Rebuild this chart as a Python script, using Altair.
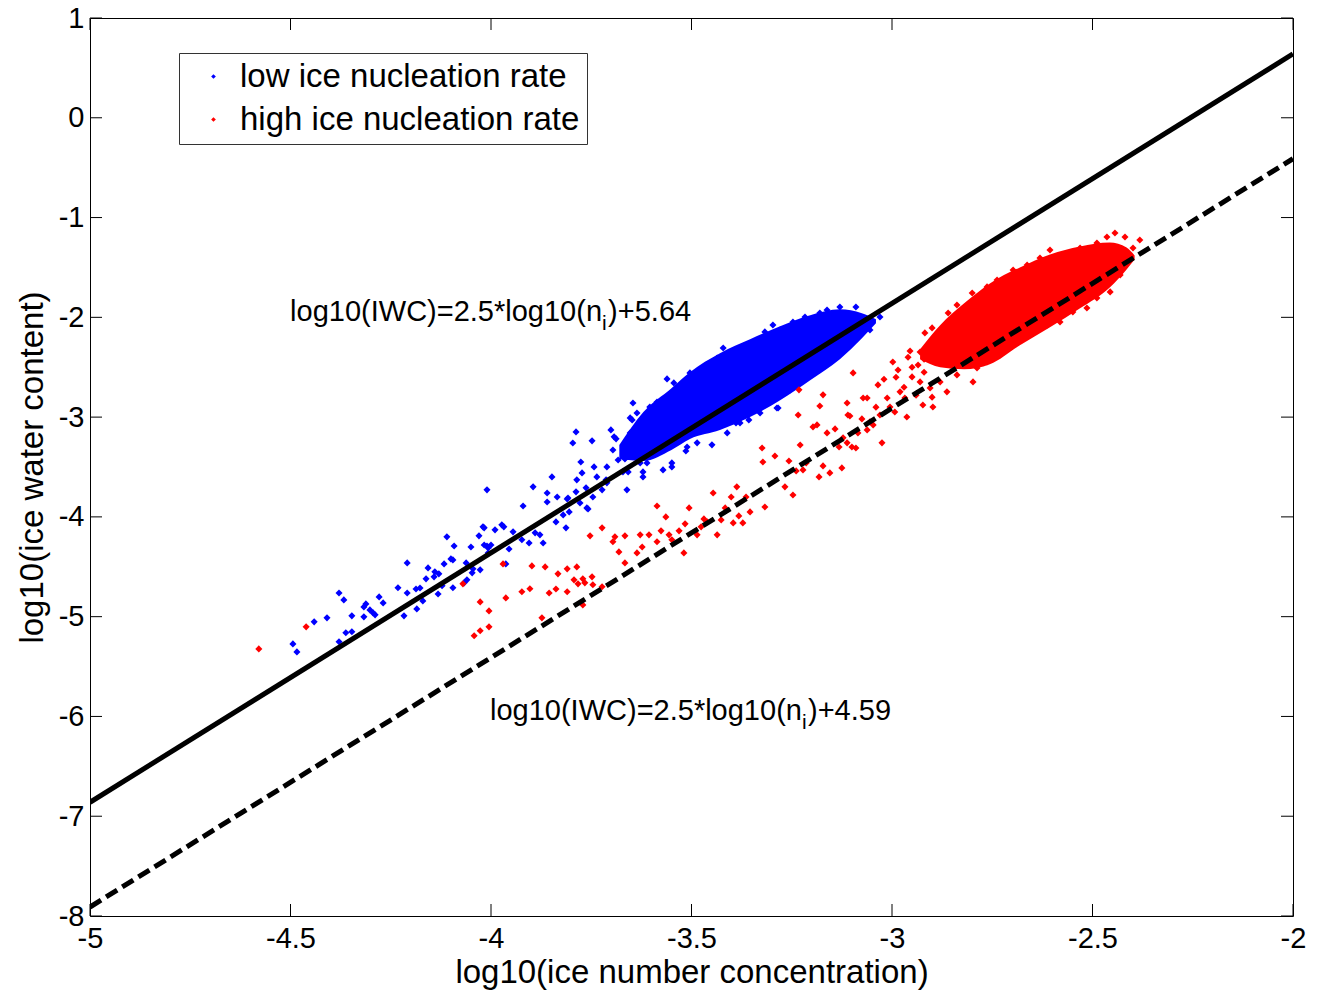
import altair as alt
import pandas as pd

# ---------------- data ----------------
blue_x = [-4.494, -4.484, -4.441, -4.409, -4.379, -4.367, -4.379, -4.362, -4.347, -4.347,
          -4.317, -4.317, -4.312, -4.302, -4.294, -4.289, -4.279, -4.269, -4.232, -4.217,
          -4.209, -4.209, -4.187, -4.185, -4.177, -4.170, -4.162, -4.157, -4.142, -4.140,
          -4.130, -4.132, -4.122, -4.117, -4.110, -4.100, -4.095, -4.092, -4.062, -4.060,
          -4.050, -4.047, -4.045, -4.030, -4.027, -4.017, -4.010, -4.007, -4.000, -3.990,
          -3.973, -3.968, -3.955, -3.945, -4.095, -4.067, -4.020, -4.010, -4.017, -4.007,
          -3.963, -3.923, -3.920, -3.905, -3.895, -3.890, -3.878, -3.870, -3.860, -3.860,
          -3.848, -3.835, -3.838, -3.820, -3.813, -3.810, -3.805, -3.788, -3.786, -3.776,
          -3.773, -3.763, -3.761, -3.796, -3.788, -3.748, -3.743, -3.736, -3.723, -3.713,
          -3.711, -3.701, -3.696, -3.688, -3.683, -3.671, -3.666, -3.653, -3.648, -3.646,
          -3.646, -3.636, -3.628, -3.621, -3.611, -3.604, -3.596, -3.586, -3.571, -3.571,
          -3.549, -3.536, -3.514, -3.536, -3.511, -3.486, -3.449, -3.444, -3.389, -3.357,
          -3.284, -3.237, -3.693, -3.653, -3.604, -3.586, -3.561, -3.544, -3.524, -3.504,
          -3.464, -3.436, -3.421, -3.392, -3.362, -3.337, -3.317, -3.297, -3.279, -3.247,
          -3.217, -3.180, -3.162, -3.130, -3.090, -3.080, -3.055, -3.030, -3.067, -3.496,
          -3.479, -3.411, -3.379, -3.329, -3.287, -3.254, -3.212, -3.180, -3.147, -3.105,
          -3.621, -3.658, -3.628, -3.549, -3.511, -3.661, -3.711, -3.746, -3.778, -3.808,
          -3.758, -3.122]
blue_y = [-5.273, -5.353, -5.052, -5.012, -4.762, -4.832, -5.252, -5.162, -5.152, -4.992,
          -5.002, -4.902, -4.872, -4.932, -4.962, -4.982, -4.802, -4.862, -4.711, -4.992,
          -4.461, -4.762, -4.722, -4.922, -4.712, -4.842, -4.621, -4.511, -4.601, -4.551,
          -4.571, -4.772, -4.691, -4.471, -4.200, -4.421, -4.711, -4.291, -4.461, -4.631,
          -4.301, -4.561, -4.521, -4.190, -4.531, -4.110, -4.291, -4.361, -4.281, -4.130,
          -4.080, -4.100, -4.321, -4.150, -4.431, -4.661, -4.100, -3.729, -4.281, -4.311,
          -4.471, -4.230, -3.890, -4.261, -3.699, -4.160, -4.180, -4.261, -3.850, -3.760,
          -3.599, -3.800, -4.050, -3.980, -4.110, -3.820, -3.950, -3.749, -3.629, -3.449,
          -3.559, -3.709, -3.910, -3.259, -3.148, -3.238, -3.499, -3.599, -3.729, -3.629,
          -3.499, -3.128, -3.329, -3.218, -3.429, -3.549, -3.419, -3.158, -3.028, -2.858,
          -3.349, -2.958, -3.208, -3.549, -3.459, -3.058, -2.948, -3.359, -3.529, -3.248,
          -3.459, -3.198, -3.339, -2.727, -2.838, -3.258, -3.278, -3.098, -3.058, -3.028,
          -2.908, -2.627, -3.198, -3.008, -2.898, -2.848, -2.617, -2.657, -2.747, -2.557,
          -2.497, -2.407, -2.307, -2.347, -2.297, -2.277, -2.146, -2.076, -2.126, -2.046,
          -1.996, -1.956, -1.926, -1.896, -1.896, -1.996, -2.126, -1.996, -2.106, -3.028,
          -3.128, -3.158, -3.058, -2.958, -2.908, -2.727, -2.597, -2.527, -2.397, -2.257,
          -3.599, -3.549, -3.459, -3.499, -3.299, -3.729, -3.659, -3.800, -3.860, -3.810,
          -3.920, -2.277]

red_x = [-4.579, -4.461, -4.070, -3.970, -3.963, -4.027, -4.005, -4.005, -4.027, -4.042,
         -3.923, -3.903, -3.898, -3.873, -3.865, -3.855, -3.838, -3.833, -3.810, -3.810,
         -3.793, -3.786, -3.783, -3.771, -3.766, -3.748, -3.746, -3.723, -3.771, -3.753,
         -3.723, -3.696, -3.691, -3.681, -3.666, -3.666, -3.636, -3.628, -3.623, -3.606,
         -3.586, -3.586, -3.576, -3.564, -3.556, -3.549, -3.531, -3.519, -3.516, -3.506,
         -3.486, -3.476, -3.469, -3.461, -3.446, -3.436, -3.426, -3.416, -3.401, -3.396,
         -3.387, -3.382, -3.372, -3.364, -3.354, -3.324, -3.322, -3.317, -3.292, -3.267,
         -3.257, -3.247, -3.239, -3.232, -3.234, -3.229, -3.222, -3.214, -3.197, -3.187,
         -3.182, -3.180, -3.172, -3.172, -3.162, -3.155, -3.142, -3.132, -3.125, -3.112,
         -3.112, -3.105, -3.090, -3.085, -3.075, -3.062, -3.062, -3.097, -3.035, -2.998,
         -2.985, -2.955, -2.918, -2.910, -2.900, -2.880, -2.860, -2.838, -2.800, -2.935,
         -2.950, -2.980, -3.005, -3.030, -3.055, -3.072, -3.110, -3.122, -3.100, -3.047,
         -3.025, -2.993, -2.963, -2.923, -2.898, -2.863, -2.880, -2.838, -2.798, -2.788,
         -2.930, -2.968, -3.012, -2.905, -2.855, -2.813, -2.763, -2.731, -2.698, -2.656,
         -2.613, -2.581, -2.549, -2.514, -2.489, -2.456, -2.431, -2.424, -2.407, -2.399,
         -2.419, -2.464, -2.489, -2.531, -2.606, -2.631, -2.663, -2.698, -2.738, -2.763,
         -2.855, -2.880, -2.898, -2.930, -2.444, -2.382, -2.990, -2.970, -2.950, -2.940,
         -2.920, -2.900, -2.960, -3.020, -3.040, -2.920]
red_y = [-5.323, -5.102, -4.671, -4.471, -4.812, -4.852, -4.942, -5.102, -5.142, -5.192,
         -4.751, -4.721, -4.491, -5.012, -4.501, -4.762, -4.722, -4.571, -4.751, -4.521,
         -4.631, -4.501, -4.671, -4.621, -4.661, -4.601, -4.681, -4.701, -4.882, -4.190,
         -4.110, -4.250, -4.200, -4.351, -4.190, -4.461, -4.361, -4.180, -4.301, -4.180,
         -3.890, -4.250, -4.140, -4.000, -4.180, -4.230, -4.140, -4.361, -4.070, -3.910,
         -4.180, -4.100, -4.020, -4.050, -3.760, -4.180, -4.030, -3.910, -3.800, -4.060,
         -3.699, -3.990, -4.060, -3.800, -3.950, -3.309, -3.449, -3.900, -3.389, -3.699,
         -3.439, -3.780, -3.539, -2.727, -2.978, -3.279, -3.529, -3.459, -3.098, -3.078,
         -3.599, -2.888, -2.777, -3.489, -3.158, -3.559, -3.118, -3.299, -3.509, -2.858,
         -3.258, -2.988, -3.309, -3.158, -3.018, -2.808, -3.128, -2.557, -2.677, -2.447,
         -2.527, -2.337, -2.156, -2.277, -2.106, -2.257, -1.956, -1.876, -1.756, -2.477,
         -2.597, -2.747, -2.898, -2.978, -3.048, -2.808, -2.978, -3.208, -3.299, -3.078,
         -3.258, -2.948, -2.998, -2.878, -2.898, -2.747, -2.647, -2.577, -2.647, -2.507,
         -2.647, -2.808, -2.808, -2.707, -2.477, -2.407, -2.447, -2.377, -2.277, -2.176,
         -2.076, -2.046, -1.946, -1.906, -1.806, -1.745, -1.575, -1.505, -1.405, -1.305,
         -1.194, -1.194, -1.255, -1.305, -1.325, -1.405, -1.475, -1.525, -1.625, -1.695,
         -2.076, -2.176, -2.307, -2.347, -1.154, -1.225, -2.600, -2.700, -2.500, -2.780,
         -2.550, -2.800, -2.400, -2.620, -2.900, -2.420]

# dense cores of the two clouds (lower / upper edge of the solid region)
blue_core_x = [-3.68, -3.62, -3.55, -3.504, -3.429, -3.354, -3.279, -3.204, -3.130, -3.075, -3.04]
blue_core_lo = [-3.42, -3.44, -3.33, -3.22, -3.13, -3.00, -2.83, -2.63, -2.42, -2.21, -2.06]
blue_core_hi = [-3.28, -2.95, -2.71, -2.55, -2.36, -2.22, -2.09, -1.98, -1.92, -1.96, -2.02]
red_core_x = [-2.93, -2.88, -2.82, -2.756, -2.681, -2.606, -2.531, -2.457, -2.415, -2.395]
red_core_lo = [-2.42, -2.50, -2.52, -2.47, -2.28, -2.10, -1.91, -1.70, -1.52, -1.42]
red_core_hi = [-2.32, -2.08, -1.86, -1.66, -1.50, -1.37, -1.29, -1.25, -1.30, -1.38]

# fitted lines (end points)
fit_x = [-5, -2]
fit_low_y = [-6.86, 0.64]
fit_high_y = [-7.91, -0.41]

series_names = ["low ice nucleation rate", "high ice nucleation rate"]
x_ticks = [-5, -4.5, -4, -3.5, -3, -2.5, -2]
y_ticks = [-8, -7, -6, -5, -4, -3, -2, -1, 0, 1]

# ---------------- tables ----------------
points = pd.concat([
    pd.DataFrame({"x": blue_x, "y": blue_y, "s": series_names[0]}),
    pd.DataFrame({"x": red_x, "y": red_y, "s": series_names[1]}),
], ignore_index=True)
blue_core = pd.DataFrame({"x": blue_core_x, "y": blue_core_lo, "y2": blue_core_hi})
red_core = pd.DataFrame({"x": red_core_x, "y": red_core_lo, "y2": red_core_hi})
line_low = pd.DataFrame({"x": fit_x, "y": fit_low_y})
line_high = pd.DataFrame({"x": fit_x, "y": fit_high_y})
xt = pd.DataFrame({"x": x_ticks})
yt = pd.DataFrame({"y": y_ticks})

W, H = 1203, 898
FONT = "Liberation Sans"

xscale = alt.Scale(domain=[-5, -2], nice=False, zero=False)
yscale = alt.Scale(domain=[-8, 1], nice=False, zero=False)
xaxis = alt.Axis(values=x_ticks, title="log10(ice number concentration)",
                 labelExpr="'' + datum.value", labelFlush=False, labelOverlap=False,
                 labelPadding=8, titlePadding=3)
yaxis = alt.Axis(values=y_ticks, title="log10(ice water content)",
                 labelExpr="'' + datum.value", labelFlush=False, labelOverlap=False,
                 labelPadding=6, titlePadding=9)

X = alt.X("x:Q", scale=xscale, axis=xaxis)
Y = alt.Y("y:Q", scale=yscale, axis=yaxis)

blue_area = alt.Chart(blue_core).mark_area(color="#0000ff", interpolate="monotone").encode(
    x=X, y=Y, y2="y2:Q")
red_area = alt.Chart(red_core).mark_area(color="#ff0000", interpolate="monotone").encode(
    x=X, y=Y, y2="y2:Q")

pts = alt.Chart(points).mark_point(shape="diamond", filled=True, size=50, opacity=1).encode(
    x=X, y=Y,
    color=alt.Color("s:N", scale=alt.Scale(domain=series_names, range=["#0000ff", "#ff0000"]),
                    legend=alt.Legend(title=None, orient="none", legendX=89, legendY=35,
                                      labelFontSize=33, labelFont=FONT, labelColor="black",
                                      labelLimit=0,
                                      symbolType="diamond", symbolSize=22, symbolStrokeWidth=0,
                                      symbolOffset=11, labelOffset=10, padding=7, rowPadding=9,
                                      strokeColor="#333333", fillColor="white")),
)

solid = alt.Chart(line_low).mark_line(color="black", strokeWidth=5, clip=True).encode(x=X, y=Y)
dashed = alt.Chart(line_high).mark_line(color="black", strokeWidth=5, strokeDash=[13, 6],
                                        strokeCap="butt", clip=True).encode(x=X, y=Y)

# inward ticks on all four sides
tb = alt.Chart(xt).mark_rule(color="black", strokeWidth=1).encode(x=X, y=alt.value(H), y2=alt.value(H - 12))
tt = alt.Chart(xt).mark_rule(color="black", strokeWidth=1).encode(x=X, y=alt.value(0), y2=alt.value(12))
tl = alt.Chart(yt).mark_rule(color="black", strokeWidth=1).encode(y=Y, x=alt.value(0), x2=alt.value(12))
tr = alt.Chart(yt).mark_rule(color="black", strokeWidth=1).encode(y=Y, x=alt.value(W), x2=alt.value(W - 12))

def annot(x0, y0, tail):
    d = pd.DataFrame({"x": [x0], "y": [y0]})
    base = alt.Chart(d)
    a = base.mark_text(align="left", baseline="alphabetic", fontSize=29, font=FONT,
                       color="black", text="log10(IWC)=2.5*log10(n").encode(x=X, y=Y)
    b = base.mark_text(align="left", baseline="alphabetic", fontSize=21, font=FONT,
                       color="black", text="i", dx=312, dy=9).encode(x=X, y=Y)
    c = base.mark_text(align="left", baseline="alphabetic", fontSize=29, font=FONT,
                       color="black", text=tail, dx=318).encode(x=X, y=Y)
    return a + b + c

ann1 = annot(-4.501, -2.036, ")+5.64")
ann2 = annot(-4.0025, -6.034, ")+4.59")

chart = alt.layer(
    blue_area, red_area, pts, solid, dashed, ann1, ann2, tb, tt, tl, tr
).properties(
    width=W, height=H,
    autosize=alt.AutoSizeParams(type="none"),
    padding={"left": 90, "top": 18, "right": 26, "bottom": 77},
    background="white",
).configure_view(
    stroke="black", strokeWidth=1
).configure_axis(
    ticks=False, domain=False, grid=False,
    labelFont=FONT, labelFontSize=29, labelColor="black",
    titleFont=FONT, titleFontSize=33, titleFontWeight="normal", titleColor="black",
)

chart.save("out.html", embed_options={"renderer": "svg", "actions": False})
